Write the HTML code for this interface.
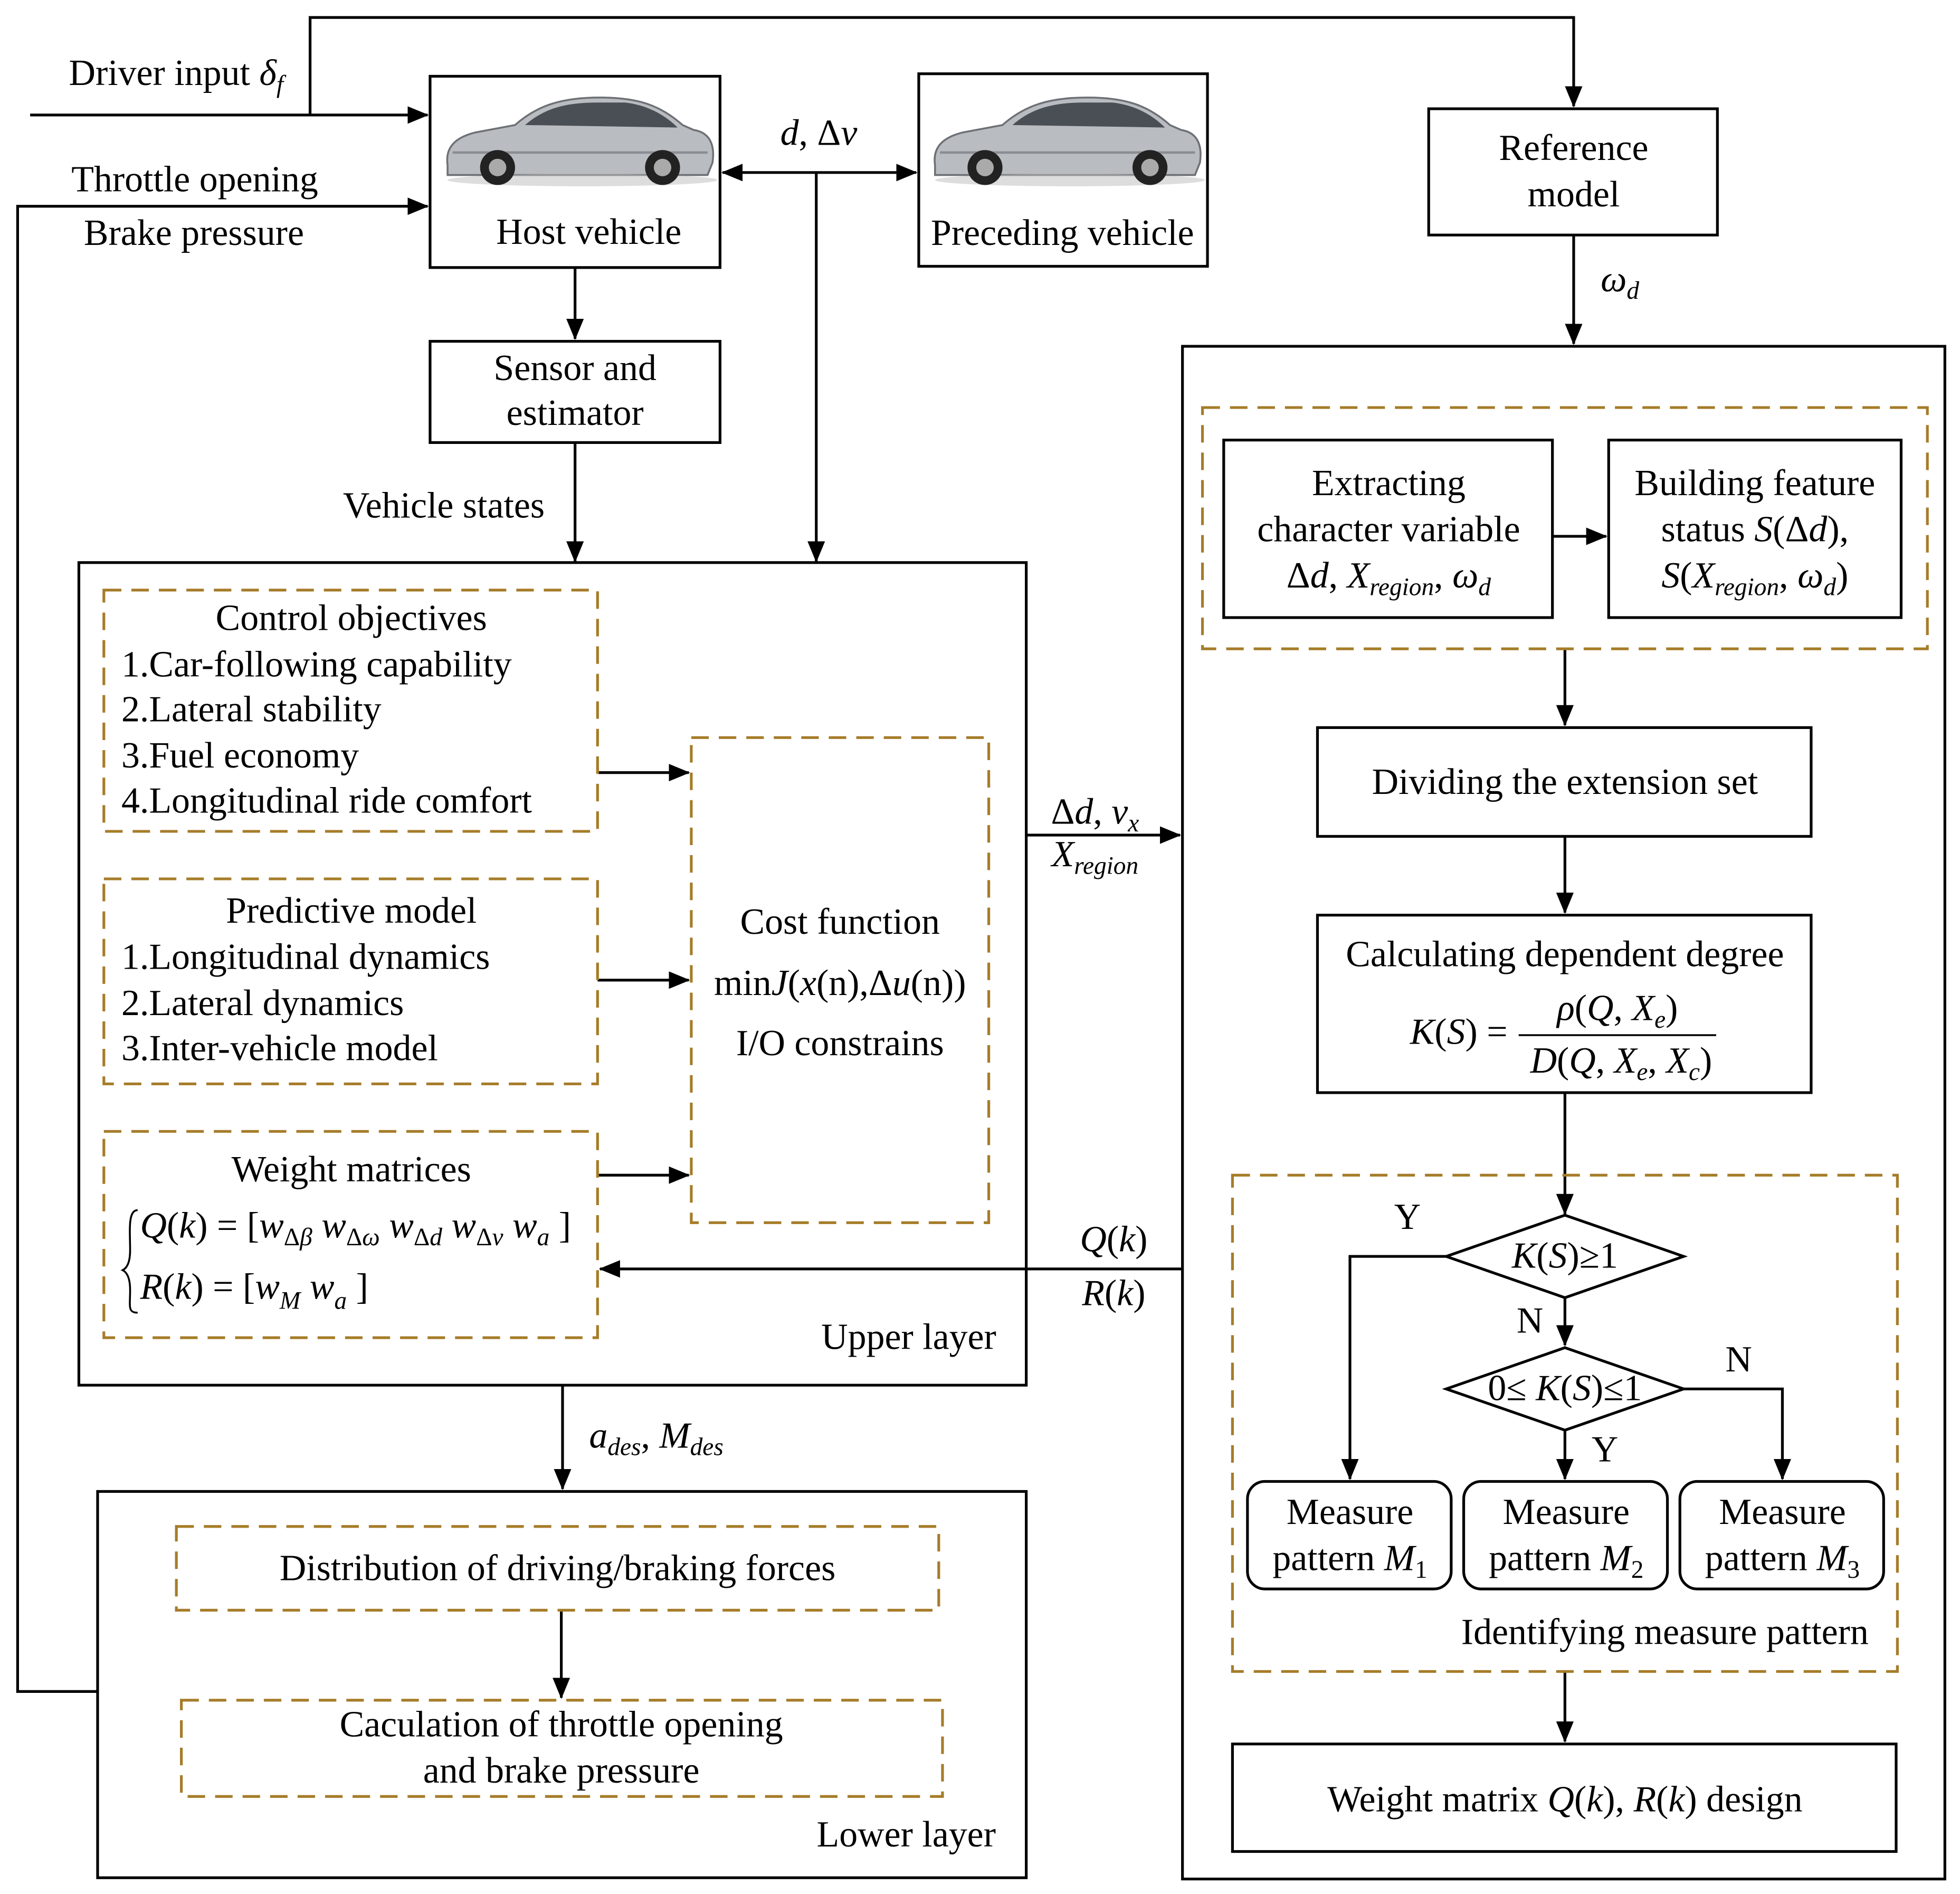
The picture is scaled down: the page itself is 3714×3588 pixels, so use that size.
<!DOCTYPE html>
<html><head><meta charset="utf-8"><style>
html,body{margin:0;padding:0;background:#fff}
svg{display:block}
text{font-family:"Liberation Serif",serif;font-size:29.5px;fill:#000}
.c{text-anchor:middle}
.i{font-style:italic}
.s{font-size:20px}
</style></head><body>
<svg width="3714" height="3588" viewBox="0 0 1568 1515" xmlns="http://www.w3.org/2000/svg">
<defs>
<marker id="b" markerWidth="18" markerHeight="14" refX="16" refY="7" orient="auto" markerUnits="userSpaceOnUse"><path d="M0,0 L17,7 L0,14 z" fill="#000"/></marker>
<marker id="bs" markerWidth="18" markerHeight="14" refX="1" refY="7" orient="auto" markerUnits="userSpaceOnUse"><path d="M17,0 L0,7 L17,14 z" fill="#000"/></marker>
<g id="car">
<path d="M8,62 C6,48 14,40 30,36 L62,30 C80,14 100,8 130,8 C160,8 178,14 196,30 L205,34 C218,36 222,46 220,60 L216,70 L8,70 Z" fill="#b9bcc0" stroke="#6d7075" stroke-width="1.5"/>
<path d="M70,30 C86,16 104,12 128,12 L150,12 C168,14 182,22 192,32 Z" fill="#4a4f55"/>
<path d="M12,52 L216,52" stroke="#8a8e93" stroke-width="2"/>
<ellipse cx="116" cy="74" rx="108" ry="5" fill="#bbb" opacity="0.5"/>
<circle cx="48" cy="64" r="14" fill="#222"/><circle cx="48" cy="64" r="7" fill="#aaa"/>
<circle cx="180" cy="64" r="14" fill="#222"/><circle cx="180" cy="64" r="7" fill="#aaa"/>
</g>
</defs>
<g fill="none" stroke="#000" stroke-width="2.2">
<polyline points="248,92 248,14 1259,14 1259,85" marker-end="url(#b)"/>
<line x1="24" y1="92" x2="342" y2="92" marker-end="url(#b)"/>
<polyline points="78,1353 14,1353 14,165 342,165" marker-end="url(#b)"/>
<rect x="344" y="61" width="232" height="153"/>
<rect x="735" y="59" width="231" height="154"/>
<line x1="578" y1="138" x2="733" y2="138" marker-start="url(#bs)" marker-end="url(#b)"/>
<line x1="653" y1="138" x2="653" y2="449" marker-end="url(#b)"/>
<line x1="460" y1="214" x2="460" y2="271" marker-end="url(#b)"/>
<rect x="344" y="273" width="232" height="81"/>
<line x1="460" y1="354" x2="460" y2="449" marker-end="url(#b)"/>
<rect x="63" y="450" width="758" height="658"/>
<line x1="478" y1="618" x2="551" y2="618" marker-end="url(#b)"/>
<line x1="478" y1="784" x2="551" y2="784" marker-end="url(#b)"/>
<line x1="478" y1="940" x2="551" y2="940" marker-end="url(#b)"/>
<line x1="821" y1="668" x2="944" y2="668" marker-end="url(#b)"/>
<line x1="946" y1="1015" x2="480" y2="1015" marker-end="url(#b)"/>
<line x1="450" y1="1108" x2="450" y2="1191" marker-end="url(#b)"/>
<rect x="78" y="1193" width="743" height="309"/>
<line x1="449" y1="1288" x2="449" y2="1358" marker-end="url(#b)"/>
<rect x="1143" y="87" width="231" height="101"/>
<line x1="1259" y1="188" x2="1259" y2="275" marker-end="url(#b)"/>
<rect x="946" y="277" width="610" height="1226"/>
<rect x="979" y="352" width="263" height="142"/>
<rect x="1287" y="352" width="234" height="142"/>
<line x1="1242" y1="429" x2="1285" y2="429" marker-end="url(#b)"/>
<line x1="1252" y1="519" x2="1252" y2="580" marker-end="url(#b)"/>
<rect x="1054" y="582" width="395" height="87"/>
<line x1="1252" y1="669" x2="1252" y2="730" marker-end="url(#b)"/>
<rect x="1054" y="732" width="395" height="142"/>
<line x1="1215" y1="828" x2="1373" y2="828" stroke-width="1.5"/>
<line x1="1252" y1="874" x2="1252" y2="971" marker-end="url(#b)"/>
<polygon points="1157,1005 1252,972 1347,1005 1252,1038"/>
<polygon points="1157,1111 1252,1078 1347,1111 1252,1144"/>
<polyline points="1157,1005 1080,1005 1080,1183" marker-end="url(#b)"/>
<line x1="1252" y1="1038" x2="1252" y2="1076" marker-end="url(#b)"/>
<polyline points="1347,1111 1426,1111 1426,1183" marker-end="url(#b)"/>
<line x1="1252" y1="1144" x2="1252" y2="1183" marker-end="url(#b)"/>
<rect x="998" y="1185" width="163" height="86" rx="14"/>
<rect x="1171" y="1185" width="163" height="86" rx="14"/>
<rect x="1344" y="1185" width="163" height="86" rx="14"/>
<line x1="1252" y1="1337" x2="1252" y2="1393" marker-end="url(#b)"/>
<rect x="986" y="1395" width="531" height="86"/>
<path d="M110,968 C102,968 104,985 104,1000 C104,1012 100,1015 98,1016 C100,1017 104,1020 104,1032 C104,1045 102,1050 110,1050" stroke-width="1.5"/>
</g>
<g fill="none" stroke="#a67c29" stroke-width="2.2" stroke-dasharray="14,8">
<rect x="83" y="472" width="395" height="193"/>
<rect x="83" y="703" width="395" height="164"/>
<rect x="83" y="905" width="395" height="165"/>
<rect x="553" y="590" width="238" height="388"/>
<rect x="141" y="1221" width="610" height="67"/>
<rect x="145" y="1360" width="609" height="77"/>
<rect x="962" y="326" width="580" height="193"/>
<rect x="986" y="940" width="532" height="397"/>
</g>
<use href="#car" x="350" y="70"/>
<use href="#car" x="740" y="70"/>
<text x="55" y="68">Driver input <tspan class="i">δ</tspan><tspan class="i s" dy="6">f</tspan></text>
<text x="57" y="153">Throttle opening</text>
<text x="67" y="196">Brake pressure</text>
<text x="471" y="195" class="c">Host vehicle</text>
<text x="850" y="196" class="c">Preceding vehicle</text>
<text x="655" y="116" class="c"><tspan class="i">d</tspan>, Δ<tspan class="i">v</tspan></text>
<text x="460" y="304" class="c">Sensor and</text>
<text x="460" y="340" class="c">estimator</text>
<text x="355" y="414" class="c">Vehicle states</text>
<text x="281" y="504" class="c">Control objectives</text>
<text x="97" y="541">1.Car-following capability</text>
<text x="97" y="577">2.Lateral stability</text>
<text x="97" y="614">3.Fuel economy</text>
<text x="97" y="650">4.Longitudinal ride comfort</text>
<text x="281" y="738" class="c">Predictive model</text>
<text x="97" y="775">1.Longitudinal dynamics</text>
<text x="97" y="812">2.Lateral dynamics</text>
<text x="97" y="848">3.Inter-vehicle model</text>
<text x="281" y="945" class="c">Weight matrices</text>
<text x="112" y="990"><tspan class="i">Q</tspan>(<tspan class="i">k</tspan>) = [<tspan class="i">w</tspan><tspan class="s" dy="6">Δ<tspan class="i">β</tspan></tspan><tspan dy="-6"> </tspan><tspan class="i">w</tspan><tspan class="s" dy="6">Δ<tspan class="i">ω</tspan></tspan><tspan dy="-6"> </tspan><tspan class="i">w</tspan><tspan class="s" dy="6">Δ<tspan class="i">d</tspan></tspan><tspan dy="-6"> </tspan><tspan class="i">w</tspan><tspan class="s" dy="6">Δ<tspan class="i">v</tspan></tspan><tspan dy="-6"> </tspan><tspan class="i">w</tspan><tspan class="s i" dy="6">a</tspan><tspan dy="-6"> ]</tspan></text>
<text x="112" y="1039"><tspan class="i">R</tspan>(<tspan class="i">k</tspan>) = [<tspan class="i">w</tspan><tspan class="s i" dy="8">M</tspan><tspan dy="-8"> </tspan><tspan class="i">w</tspan><tspan class="s i" dy="8">a</tspan><tspan dy="-8">  ]</tspan></text>
<text x="672" y="747" class="c">Cost function</text>
<text x="672" y="796" class="c">min<tspan class="i">J</tspan>(<tspan class="i">x</tspan>(n),Δ<tspan class="i">u</tspan>(n))</text>
<text x="672" y="844" class="c">I/O constrains</text>
<text x="727" y="1079" class="c">Upper layer</text>
<text x="876" y="659" class="c">Δ<tspan class="i">d</tspan>, <tspan class="i">v</tspan><tspan class="i s" dy="6">x</tspan></text>
<text x="876" y="693" class="c i">X<tspan class="s" dy="6">region</tspan></text>
<text x="891" y="1001" class="c i">Q<tspan font-style="normal">(</tspan>k<tspan font-style="normal">)</tspan></text>
<text x="891" y="1044" class="c i">R<tspan font-style="normal">(</tspan>k<tspan font-style="normal">)</tspan></text>
<text x="525" y="1158" class="c i">a<tspan class="s" dy="6">des</tspan><tspan dy="-6" font-style="normal">, </tspan>M<tspan class="s" dy="6">des</tspan></text>
<text x="446" y="1264" class="c">Distribution of driving/braking forces</text>
<text x="449" y="1389" class="c">Caculation of throttle opening</text>
<text x="449" y="1426" class="c">and brake pressure</text>
<text x="725" y="1477" class="c">Lower layer</text>
<text x="1259" y="128" class="c">Reference</text>
<text x="1259" y="165" class="c">model</text>
<text x="1296" y="233" class="c i">ω<tspan class="s" dy="6">d</tspan></text>
<text x="1111" y="396" class="c">Extracting</text>
<text x="1111" y="433" class="c">character variable</text>
<text x="1111" y="470" class="c">Δ<tspan class="i">d</tspan>, <tspan class="i">X</tspan><tspan class="i s" dy="6">region</tspan><tspan dy="-6">, </tspan><tspan class="i">ω</tspan><tspan class="i s" dy="6">d</tspan></text>
<text x="1404" y="396" class="c">Building feature</text>
<text x="1404" y="433" class="c">status <tspan class="i">S</tspan>(Δ<tspan class="i">d</tspan>),</text>
<text x="1404" y="470" class="c"><tspan class="i">S</tspan>(<tspan class="i">X</tspan><tspan class="i s" dy="6">region</tspan><tspan dy="-6">, </tspan><tspan class="i">ω</tspan><tspan class="i s" dy="6">d</tspan><tspan dy="-6">)</tspan></text>
<text x="1252" y="635" class="c">Dividing the extension set</text>
<text x="1252" y="773" class="c">Calculating dependent degree</text>
<text x="1128" y="835" class="i">K<tspan font-style="normal">(</tspan>S<tspan font-style="normal">) =</tspan></text>
<text x="1294" y="816" class="c i">ρ<tspan font-style="normal">(</tspan>Q<tspan font-style="normal">, </tspan>X<tspan class="s" dy="6">e</tspan><tspan dy="-6" font-style="normal">)</tspan></text>
<text x="1297" y="858" class="c i">D<tspan font-style="normal">(</tspan>Q<tspan font-style="normal">, </tspan>X<tspan class="s" dy="6">e</tspan><tspan dy="-6" font-style="normal">, </tspan>X<tspan class="s" dy="6">c</tspan><tspan dy="-6" font-style="normal">)</tspan></text>
<text x="1252" y="1014" class="c"><tspan class="i">K</tspan>(<tspan class="i">S</tspan>)≥1</text>
<text x="1252" y="1120" class="c">0≤ <tspan class="i">K</tspan>(<tspan class="i">S</tspan>)≤1</text>
<text x="1126" y="983" class="c">Y</text>
<text x="1224" y="1066" class="c">N</text>
<text x="1391" y="1097" class="c">N</text>
<text x="1284" y="1169" class="c">Y</text>
<text x="1080" y="1219" class="c">Measure</text>
<text x="1080" y="1256" class="c">pattern <tspan class="i">M</tspan><tspan class="s" dy="6">1</tspan></text>
<text x="1253" y="1219" class="c">Measure</text>
<text x="1253" y="1256" class="c">pattern <tspan class="i">M</tspan><tspan class="s" dy="6">2</tspan></text>
<text x="1426" y="1219" class="c">Measure</text>
<text x="1426" y="1256" class="c">pattern <tspan class="i">M</tspan><tspan class="s" dy="6">3</tspan></text>
<text x="1332" y="1315" class="c">Identifying measure pattern</text>
<text x="1252" y="1449" class="c">Weight matrix <tspan class="i">Q</tspan>(<tspan class="i">k</tspan>), <tspan class="i">R</tspan>(<tspan class="i">k</tspan>) design</text>
</svg>
</body></html>
